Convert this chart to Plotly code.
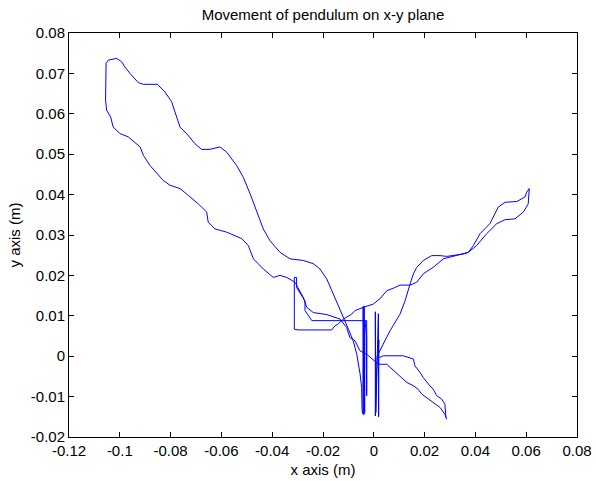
import plotly.graph_objects as go

# Path of the pendulum bob on the x-y plane (m)
x_pos = [
    0.0287, 0.0280, 0.0261, 0.0234, 0.0215, 0.0189, 0.0175, 0.0156, 0.0130, 0.0103,
    0.0077, 0.0051, 0.0018, -0.0028, -0.0054, -0.0074, -0.0094, -0.0107, -0.0133, -0.0185,
    -0.0238, -0.0264, -0.0278, -0.0310, -0.0343, -0.0369, -0.0396, -0.0435, -0.0474, -0.0494,
    -0.0520, -0.0579, -0.0625, -0.0652, -0.0658, -0.0691, -0.0730, -0.0763, -0.0802, -0.0829,
    -0.0881, -0.0907, -0.0920, -0.0967, -0.0999, -0.1026, -0.1036, -0.1052, -0.1056, -0.1054,
    -0.1045, -0.1012, -0.0993, -0.0980, -0.0960, -0.0927, -0.0907, -0.0852, -0.0822, -0.0796,
    -0.0783, -0.0763, -0.0737, -0.0704, -0.0678, -0.0645, -0.0606, -0.0579, -0.0540, -0.0514,
    -0.0487, -0.0461, -0.0435, -0.0409, -0.0369, -0.0330, -0.0278, -0.0238, -0.0212, -0.0185,
    -0.0159, -0.0126, -0.0100, -0.0081, -0.0067, -0.0054, -0.0048, -0.0046,
    -0.0043, -0.0042, -0.0039, -0.0038, -0.0036, -0.0035,
    -0.0028, -0.0028, -0.0028,
    -0.0244, -0.0271, -0.0271, -0.0291, -0.0304, -0.0304, -0.0313, -0.0313, -0.0298, -0.0166,
    -0.0153, -0.0140, -0.0120, -0.0087, -0.0074, -0.0041, -0.0002, 0.0024, 0.0051, 0.0083,
    0.0103, 0.0143, 0.0169, 0.0195, 0.0234, 0.0274, 0.0326, 0.0372, 0.0405, 0.0444,
    0.0484, 0.0517, 0.0556, 0.0589, 0.0608, 0.0612, 0.0602, 0.0595, 0.0563, 0.0517,
    0.0490, 0.0457, 0.0418, 0.0392, 0.0372, 0.0352, 0.0287, 0.0261, 0.0228, 0.0195,
    0.0169, 0.0156, 0.0143, 0.0123, 0.0103, 0.0064, 0.0037, 0.0024, 0.0013,
    0.0006, 0.0006, 0.0008, 0.0018, 0.0019, 0.0020, 0.0017,
    0.0024, 0.0037, 0.0064, 0.0116, 0.0156, 0.0162, 0.0182, 0.0195, 0.0215, 0.0234,
    0.0248, 0.0267, 0.0280, 0.0284,
]
y_pos = [
    -0.0156, -0.0144, -0.0127, -0.0115, -0.0106, -0.0094, -0.0082, -0.0073, -0.0065, -0.0049,
    -0.0036, -0.0020, -0.0020, 0.0005, 0.0013, 0.0038, 0.0046, 0.0071, 0.0092, 0.0103,
    0.0108, 0.0121, 0.0146, 0.0183, 0.0195, 0.0200, 0.0195, 0.0216, 0.0241, 0.0274,
    0.0291, 0.0307, 0.0315, 0.0332, 0.0357, 0.0377, 0.0398, 0.0415, 0.0423, 0.0435,
    0.0472, 0.0497, 0.0518, 0.0543, 0.0551, 0.0567, 0.0592, 0.0609, 0.0634, 0.0725,
    0.0733, 0.0737, 0.0729, 0.0716, 0.0700, 0.0677, 0.0673, 0.0673, 0.0654, 0.0630,
    0.0605, 0.0567, 0.0551, 0.0526, 0.0512, 0.0512, 0.0518, 0.0505, 0.0472, 0.0443,
    0.0402, 0.0357, 0.0315, 0.0286, 0.0257, 0.0241, 0.0237, 0.0229, 0.0216, 0.0191,
    0.0154, 0.0108, 0.0067, 0.0038, 0.0005, -0.0044, -0.0078, -0.0135,
    -0.0143, 0.0123, -0.0145, 0.0123, -0.0140, 0.0088,
    0.0051, -0.0098, 0.0088,
    0.0088, 0.0113, 0.0137, 0.0158, 0.0170, 0.0195, 0.0195, 0.0067, 0.0065, 0.0065,
    0.0075, 0.0080, 0.0092, 0.0104, 0.0113, 0.0121, 0.0129, 0.0142, 0.0162, 0.0170,
    0.0176, 0.0176, 0.0183, 0.0204, 0.0220, 0.0241, 0.0249, 0.0257, 0.0274, 0.0303,
    0.0328, 0.0338, 0.0340, 0.0357, 0.0377, 0.0415, 0.0406, 0.0394, 0.0383, 0.0381,
    0.0369, 0.0328, 0.0303, 0.0274, 0.0257, 0.0253, 0.0247, 0.0249, 0.0249, 0.0237,
    0.0220, 0.0204, 0.0179, 0.0137, 0.0104, 0.0063, 0.0030, 0.0013, -0.0001,
    -0.0148, 0.0110, -0.0140, 0.0105, -0.0150, 0.0040, -0.0001,
    -0.0003, 0.0001, 0.0001, 0.0001, -0.0007, -0.0024, -0.0040, -0.0053, -0.0069, -0.0082,
    -0.0098, -0.0106, -0.0119, -0.0152,
]

x_ticks = [-0.12, -0.10, -0.08, -0.06, -0.04, -0.02, 0.0, 0.02, 0.04, 0.06, 0.08]
x_tick_text = ["-0.12", "-0.1", "-0.08", "-0.06", "-0.04", "-0.02", "0", "0.02", "0.04", "0.06", "0.08"]
y_ticks = [-0.02, -0.01, 0.0, 0.01, 0.02, 0.03, 0.04, 0.05, 0.06, 0.07, 0.08]
y_tick_text = ["-0.02", "-0.01", "0", "0.01", "0.02", "0.03", "0.04", "0.05", "0.06", "0.07", "0.08"]

FONT = "Liberation Sans, Arial, sans-serif"
FS = 15

fig = go.Figure(
    go.Scatter(
        x=x_pos, y=y_pos, mode="lines",
        line=dict(color="#0000FF", width=1),
        showlegend=False, hoverinfo="x+y",
    )
)

axis_common = dict(
    showline=True, linecolor="black", linewidth=1, mirror="ticks",
    ticks="inside", ticklen=5, tickcolor="black", tickwidth=1,
    showgrid=False, zeroline=False, automargin=False,
    tickfont=dict(family=FONT, size=FS, color="black"),
)

fig.update_layout(
    width=596, height=481,
    margin=dict(l=69, r=19, t=33, b=44),
    paper_bgcolor="white", plot_bgcolor="white",
    font=dict(family=FONT, size=FS, color="black"),
    title=dict(text="Movement of pendulum on x-y plane", x=(69 + 577) / 2 / 596, xanchor="center",
               y=1 - 15 / 481, yanchor="middle", font=dict(family=FONT, size=FS, color="black")),
    xaxis=dict(range=[-0.12, 0.08], tickvals=x_ticks, ticktext=x_tick_text,
               title=dict(text="x axis (m)", standoff=6, font=dict(family=FONT, size=FS)),
               **axis_common),
    yaxis=dict(range=[-0.02, 0.08], tickvals=y_ticks, ticktext=y_tick_text,
               title=dict(text="y axis (m)", standoff=6, font=dict(family=FONT, size=FS)),
               **axis_common),
)

fig.write_html(
    "out.html",
    config={"displayModeBar": False},
    post_script="document.body.style.margin='0';document.body.style.padding='0';",
)
